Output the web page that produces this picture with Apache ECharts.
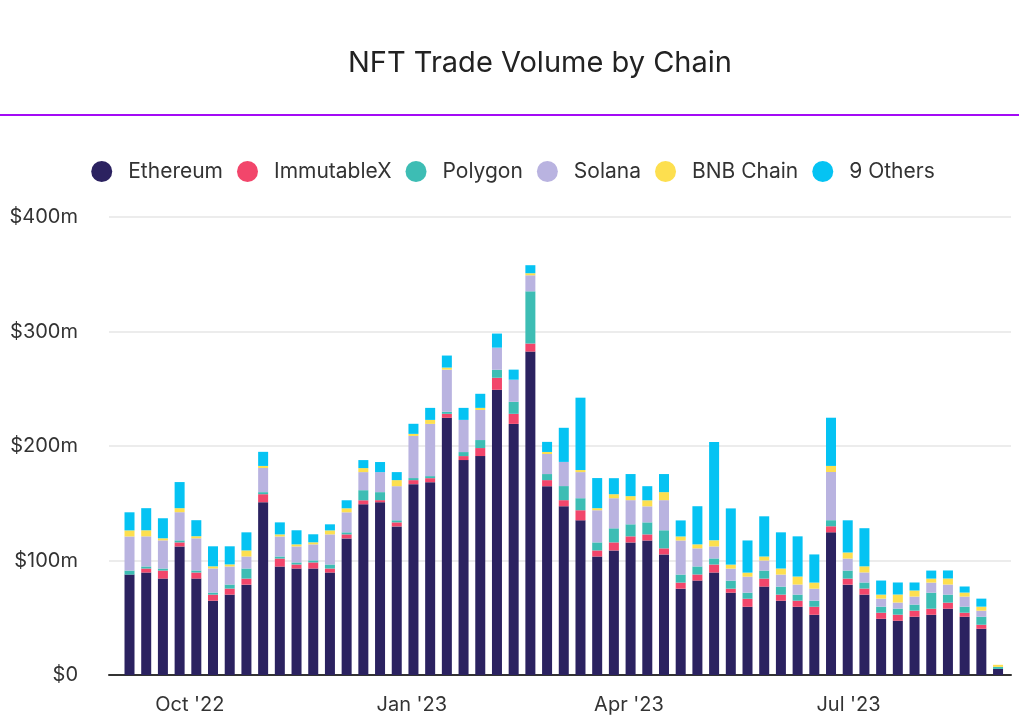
<!DOCTYPE html>
<html>
<head>
<meta charset="utf-8">
<script src="https://cdn.jsdelivr.net/npm/echarts@6/dist/echarts.min.js"></script>
<style>
  html, body { margin: 0; padding: 0; background: #fff; }
  #chart { width: 1026px; height: 722px; }
  #rule { position: absolute; left: 0; top: 114px; width: 1019px; height: 2px; background: #a30af5; }
</style>
</head>
<body>
<div id="chart"></div>
<div id="rule"></div>
<script>
const weeks = [
  '2022-09-04','2022-09-11','2022-09-18','2022-09-25',
  '2022-10-02','2022-10-09','2022-10-16','2022-10-23','2022-10-30',
  '2022-11-06','2022-11-13','2022-11-20','2022-11-27',
  '2022-12-04','2022-12-11','2022-12-18','2022-12-25',
  '2023-01-01','2023-01-08','2023-01-15','2023-01-22','2023-01-29',
  '2023-02-05','2023-02-12','2023-02-19','2023-02-26',
  '2023-03-05','2023-03-12','2023-03-19','2023-03-26',
  '2023-04-02','2023-04-09','2023-04-16','2023-04-23','2023-04-30',
  '2023-05-07','2023-05-14','2023-05-21','2023-05-28',
  '2023-06-04','2023-06-11','2023-06-18','2023-06-25',
  '2023-07-02','2023-07-09','2023-07-16','2023-07-23','2023-07-30',
  '2023-08-06','2023-08-13','2023-08-20','2023-08-27',
  '2023-09-03'
];

const ethereum = [87.7,89.5,84.2,112.3,84.2,64.9,70.2,78.9,150.9,94.7,93.0,93.0,89.5,119.3,149.1,150.9,129.8,166.7,168.4,224.6,187.7,191.2,249.1,219.3,282.5,164.9,147.4,135.1,103.5,108.8,115.8,117.5,105.3,75.4,82.5,89.5,71.9,59.6,77.2,64.9,59.6,52.6,124.6,78.9,70.2,49.1,47.4,50.9,52.6,57.9,50.9,40.4,5.3];
const immutableX = [0,3.5,7.0,3.5,5.3,5.3,5.3,5.3,7.0,7.0,3.5,5.3,3.5,3.5,3.5,1.8,3.5,3.5,3.5,3.5,3.5,7.0,10.5,8.8,7.0,5.3,5.3,8.8,5.3,7.0,5.3,5.3,5.3,5.3,5.3,7.0,3.5,7.0,7.0,5.3,5.3,7.0,5.3,5.3,5.3,5.3,5.3,5.3,5.3,5.3,3.5,3.5,0];
const polygon = [3.5,1.8,1.8,1.8,1.8,1.8,3.5,8.8,1.8,1.8,1.8,1.8,3.5,1.8,8.8,7.0,1.8,1.8,1.8,1.8,3.5,7.0,7.0,10.5,45.6,5.3,12.3,10.5,7.0,12.3,10.5,10.5,15.8,7.0,7.0,5.3,7.0,5.3,7.0,7.0,5.3,5.3,5.3,7.0,5.3,5.3,5.3,5.3,14.0,7.0,5.3,7.0,1.8];
const solana = [29.8,26.3,24.6,24.6,28.1,21.1,15.8,10.5,21.1,17.5,14.0,14.0,26.3,17.5,15.8,17.5,29.8,36.8,45.6,36.8,28.1,26.3,19.3,19.3,14.0,17.5,21.1,22.8,28.1,26.3,21.1,14.0,26.3,29.8,15.8,10.5,10.5,14.0,8.8,10.5,8.8,10.5,42.1,10.5,8.8,7.0,5.3,7.0,8.8,8.8,8.8,5.3,0];
const bnbChain = [5.3,5.3,1.8,3.5,1.8,1.8,1.8,5.3,1.8,1.8,1.8,1.8,3.5,3.5,3.5,0,5.3,1.8,3.5,1.8,0,1.8,0,0,1.8,1.8,0,1.8,1.8,3.5,3.5,5.3,7.0,3.5,3.5,5.3,3.5,3.5,3.5,5.3,7.0,5.3,5.3,5.3,5.3,3.5,7.0,5.3,3.5,5.3,3.5,3.5,1.8];
const others = [15.8,19.3,17.5,22.8,14.0,17.5,15.8,15.8,12.3,10.5,12.3,7.0,5.3,7.0,7.0,8.8,7.0,8.8,10.5,10.5,10.5,12.3,12.3,8.8,7.0,8.8,29.8,63.2,26.3,14.0,19.3,12.3,15.8,14.0,33.3,86.0,49.1,28.1,35.1,31.6,35.1,24.6,42.1,28.1,33.3,12.3,10.5,7.0,7.0,7.0,5.3,7.0,0];

const seriesNames = ['Ethereum','ImmutableX','Polygon','Solana','BNB Chain','9 Others'];
const seriesColors = ['#2b2260','#f2466b','#3dbdb4','#b9b3e0','#fddf4f','#05c3f3'];
const seriesValues = [ethereum, immutableX, polygon, solana, bnbChain, others];

const xTickDates = ['2022-10-01','2023-01-01','2023-04-01','2023-07-01'];
const xTickLabels = ["Oct '22","Jan '23","Apr '23","Jul '23"];
const yTicks = [0,100,200,300,400];

const FONT = 'Inter, "Noto Sans", sans-serif';
const toTime = d => { const p = d.split('-'); return new Date(+p[0], +p[1] - 1, +p[2]).getTime(); };
const xMin = new Date(2022, 7, 28, 12, 0).getTime();
const xMax = new Date(2023, 8, 6, 8, 0).getTime();
const tickTimes = xTickDates.map(toTime);

const chart = echarts.init(document.getElementById('chart'), null, { renderer: 'canvas' });
chart.setOption({
  animation: false,
  backgroundColor: '#fff',
  title: {
    text: 'NFT Trade Volume by Chain',
    left: 343,
    top: 44,
    textStyle: { fontFamily: FONT, fontSize: 29, fontWeight: 'normal', color: '#222' }
  },
  legend: {
    data: seriesNames,
    left: 'center',
    top: 156,
    icon: 'circle',
    itemWidth: 21,
    itemHeight: 21,
    itemGap: 14,
    textStyle: { fontFamily: FONT, fontSize: 21, color: '#333', padding: [0, 0, 0, 11] }
  },
  grid: { left: 109, right: 15, top: 217, bottom: 47, containLabel: false },
  xAxis: [{
    type: 'time',
    min: xMin,
    max: xMax,
    axisLine: { show: true, onZero: false, lineStyle: { color: '#333', width: 2 } },
    axisTick: { show: false },
    splitLine: { show: false },
    axisLabel: { show: false }
  }, {
    type: 'value',
    position: 'bottom',
    min: xMin,
    max: xMax,
    axisLine: { show: false },
    axisTick: { show: false },
    splitLine: { show: false },
    axisLabel: {
      customValues: tickTimes,
      formatter: function (v) {
        const i = tickTimes.indexOf(v);
        return i >= 0 ? xTickLabels[i] : '';
      },
      fontFamily: FONT, fontSize: 20, color: '#333', margin: 20
    }
  }],
  yAxis: {
    type: 'value',
    min: yTicks[0],
    max: yTicks[yTicks.length - 1],
    interval: 100,
    axisLine: { show: false },
    axisTick: { show: false },
    splitLine: { lineStyle: { color: '#ececec', width: 2 } },
    axisLabel: {
      formatter: v => v === 0 ? '$0' : '$' + v + 'm',
      fontFamily: FONT, fontSize: 20, color: '#333', margin: 31
    }
  },
  series: seriesNames.map((name, si) => ({
    name: name,
    type: 'bar',
    stack: 'total',
    xAxisIndex: 0,
    barWidth: 10,
    itemStyle: { color: seriesColors[si] },
    emphasis: { disabled: true },
    data: weeks.map((w, i) => [toTime(w), seriesValues[si][i]])
  }))
});
</script>
</body>
</html>
